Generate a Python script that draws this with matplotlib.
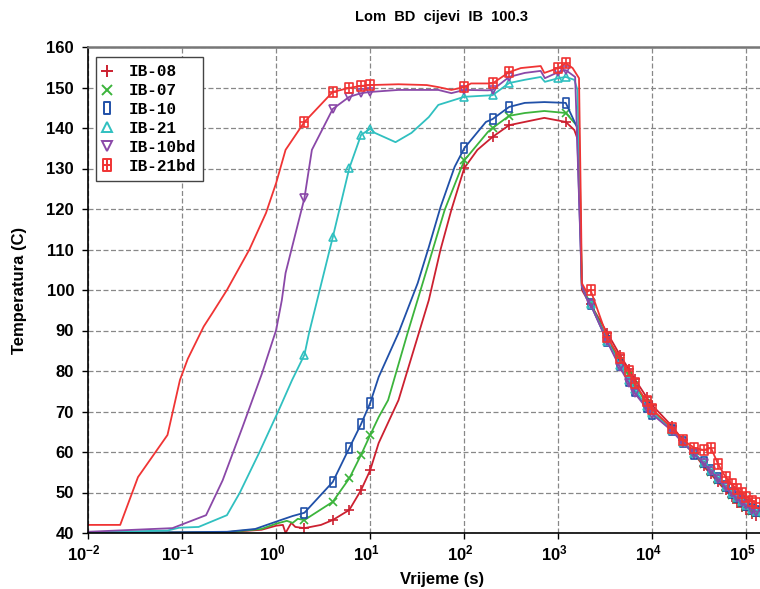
import numpy as np
import matplotlib
matplotlib.use('Agg')
import matplotlib.pyplot as plt
import matplotlib.transforms as mtransforms
from matplotlib.path import Path
from matplotlib.lines import Line2D

plt.rcParams['font.family'] = ['Liberation Sans', 'DejaVu Sans']
plt.rcParams['mathtext.fontset'] = 'custom'
plt.rcParams['mathtext.bf'] = 'Liberation Sans:bold'
plt.rcParams['mathtext.rm'] = 'Liberation Sans:bold'
plt.rcParams['mathtext.default'] = 'bf'

# cooling tail, shared sampling times (s)
tail_t = [2200, 3300, 4500, 5600, 6500, 8700, 10000, 16000, 21000, 28000, 35000,
          42000, 50000, 60000, 70000, 80000, 90000, 100000, 115000, 126000]

t08 = [0.01, 0.3, 0.7, 1.0, 1.18, 1.26, 1.45, 1.6, 2, 3, 4, 6, 8, 10, 12.3, 20, 42,
       56, 73, 100, 138, 178, 200, 300, 440, 710, 1200, 1480, 1660, 1780, 2000] + tail_t
y08 = [40, 40.2, 40.8, 41.8, 42, 40, 42.5, 41.5, 41.2, 42, 43.2, 45.7, 50.6, 55.5,
       62.2, 72.8, 97.5, 110, 119.8, 130.1, 134.6, 136.8, 137.8, 140.7, 141.5, 142.5,
       141.5, 139.5, 136.3, 100, 98,
       96.5, 89.5, 84, 80.5, 78, 73.5, 71.5, 66.5, 63, 59.5, 56.5, 54.5, 52.5, 50.5,
       48.8, 47.5, 46.5, 45.7, 44.8, 44.2]

t07 = [0.01, 0.3, 0.7, 1.0, 1.3, 1.5, 1.7, 2, 4, 6, 8, 10, 12.3, 15.5, 25, 42, 62, 100,
       178, 200, 300, 440, 710, 1200, 1660, 1780, 2000] + tail_t
y07 = [40, 40.2, 41, 42.3, 43, 42.5, 43.5, 43.2, 47.7, 53.5, 59.3, 64.2, 68.6, 72.8,
       89.4, 106.7, 119.8, 132, 139, 140, 143, 143.7, 144.2, 143.7, 140, 101, 98.5,
       96.8, 88, 82.5, 79, 76.5, 72, 70, 65.5, 62.5, 59.5, 57, 55, 53, 51, 49.5,
       48.3, 47.3, 46.5, 45.5, 45]

t10 = [0.01, 0.3, 0.6, 1.0, 1.5, 2, 4, 6, 8, 10, 12.3, 20, 32, 42, 56, 79, 100, 170,
       200, 300, 440, 710, 1200, 1580, 1780, 2000] + tail_t
y10 = [40, 40.3, 41, 42.8, 44.2, 45, 52.6, 61, 66.9, 72.1, 78.5, 89.4, 101.7, 110.6,
       120.5, 130.4, 135, 141.5, 142.2, 145.2, 146.2, 146.4, 146.2, 140.2, 101, 98,
       96.5, 87.5, 81.5, 77.5, 75, 71, 69.5, 65.5, 62.5, 59.5, 57.5, 55.5, 53.5, 51.5,
       50, 48.8, 47.8, 47, 46, 45.5]

t21 = [0.01, 0.07, 0.093, 0.15, 0.3, 0.41, 0.66, 1.07, 1.48, 2, 2.24, 4, 6, 8, 10,
       11.2, 18.6, 27.5, 42, 53, 100, 200, 300, 440, 650, 720, 1000, 1200, 1480, 1600,
       1780, 2000] + tail_t
y21 = [40.2, 40.6, 41.3, 41.5, 44.4, 49.9, 59.8, 70.4, 77.8, 84, 89.4, 113, 130.1,
       138.3, 139.8, 138.8, 136.5, 138.8, 142.7, 145.7, 147.7, 148.1, 151.1, 151.9,
       152.6, 151.4, 152.3, 152.6, 151.9, 149.4, 101, 98,
       96.5, 87.5, 81.5, 77.8, 75.5, 71.3, 69.7, 65.5, 62.5, 59.7, 57.5, 55.5, 53.5,
       51.5, 50, 48.8, 47.8, 47, 46, 45.5]

t10bd = [0.01, 0.079, 0.18, 0.27, 0.44, 0.71, 1.0, 1.15, 1.26, 2, 2.4, 4, 6, 8, 10, 20,
         42, 53, 73, 100, 178, 200, 300, 440, 650, 720, 1000, 1200, 1510, 1780,
         2000] + tail_t
y10bd = [40.3, 41.2, 44.4, 53, 66.2, 79.5, 90.1, 97.5, 104.2, 122.7, 134.6, 144.7,
         147.7, 148.6, 148.9, 149.4, 149.4, 149.4, 148.6, 149.4, 149.3, 149.4, 152.6,
         153.6, 154.1, 152.3, 153.8, 154.3, 152.6, 101, 98,
         96.5, 87.3, 81, 77, 74.5, 70.8, 69.3, 65.3, 62.3, 59.5, 57.3, 55.3, 53.3,
         51.3, 49.8, 48.6, 47.6, 46.8, 45.8, 45.3]

t21bd = [0.01, 0.022, 0.034, 0.07, 0.095, 0.115, 0.17, 0.21, 0.3, 0.52, 0.78, 1.0,
         1.26, 2, 4, 6, 8, 10, 20, 40, 53, 73, 100, 118, 200, 300, 400, 650, 710, 1000,
         1200, 1420, 1660, 1740, 1780, 2000] + tail_t
y21bd = [42, 42, 53.8, 64.2, 77.8, 83, 91, 94.3, 100, 110, 119, 126.4, 134.6, 141.5,
         148.9, 149.9, 150.4, 150.6, 150.8, 150.6, 150.1, 149.4, 150.1, 151, 151, 153.8,
         154.8, 155.3, 153.6, 154.8, 156, 154.8, 152.3, 120, 101.7, 99.5,
         100, 88.5, 83.2, 80, 77, 72.5, 70.5, 66, 63, 61, 60.5, 61, 57, 53.8, 52, 50.8,
         49.8, 49, 48, 47.5]

# times at which the logger marks were placed
mark_t = [2, 4, 6, 8, 10, 100, 200, 300, 1000, 1200] + tail_t

rect = Path([(-0.6, -1), (0.6, -1), (0.6, 1), (-0.6, 1), (-0.6, -1)],
            [Path.MOVETO, Path.LINETO, Path.LINETO, Path.LINETO, Path.CLOSEPOLY])
boxcross = Path([(-0.8, -1), (0.8, -1), (0.8, 1), (-0.8, 1), (-0.8, -1),
                 (0, -1), (0, 1), (-0.8, 0), (0.8, 0)],
                [Path.MOVETO, Path.LINETO, Path.LINETO, Path.LINETO, Path.CLOSEPOLY,
                 Path.MOVETO, Path.LINETO, Path.MOVETO, Path.LINETO])

series = [
    ('IB-08', t08, y08, '#cc2030', '+', 7),
    ('IB-07', t07, y07, '#3cb43c', 'x', 6),
    ('IB-10', t10, y10, '#2050a8', rect, 7),
    ('IB-21', t21, y21, '#30c0c0', '^', 6),
    ('IB-10bd', t10bd, y10bd, '#8a48a8', 'v', 6),
    ('IB-21bd', t21bd, y21bd, '#f03434', boxcross, 7),
]

fig = plt.figure(figsize=(7.6, 5.89), dpi=100)
ax = fig.add_axes([88 / 760, 56 / 589, 1.047 - 88 / 760, 486 / 589])

handles = []
for name, t, y, col, mk, ms in series:
    t = np.array(t)
    y = np.array(y)
    mask = np.isin(t, mark_t)
    ax.plot(t, y, color=col, lw=1.3, marker=mk, markevery=list(mask), ms=ms,
            mfc='none', mec=col, mew=1.2)
    handles.append(Line2D([], [], ls='none', marker=mk, ms=ms + 1, mfc='none',
                          mec=col, mew=1.4, label=name))

ax.set_xscale('log')
ax.set_xlim(1e-2, 10 ** 5.524)
ax.set_ylim(40, 160)
ax.set_yticks(np.arange(40, 161, 10))
ax.set_xticks([10.0 ** k for k in range(-2, 6)])
ax.set_xticklabels([r'$10^{%d}$' % k for k in range(-2, 6)])
ax.xaxis.set_minor_locator(matplotlib.ticker.NullLocator())
ax.grid(True, color='#888888', ls=(0, (4, 2)), lw=0.9)
ax.tick_params(direction='out', length=4, width=1, labelsize=12)
ax.tick_params(axis='y', pad=6)
shift = mtransforms.ScaledTranslation(-4 / 100, 0, fig.dpi_scale_trans)
for lab in ax.get_xticklabels():
    lab.set_transform(lab.get_transform() + shift)
for lab in ax.get_yticklabels():
    lab.set_fontweight('bold')
ax.spines['top'].set_color('#777777')
ax.spines['top'].set_linewidth(1.8)
ax.spines['right'].set_visible(False)
ax.spines['left'].set_linewidth(1.2)
ax.spines['bottom'].set_linewidth(1.2)

ax.set_xlabel('Vrijeme (s)', fontsize=12, fontweight='bold', labelpad=6)
ax.set_ylabel('Temperatura (C)', fontsize=12, fontweight='bold', labelpad=14)
ax.set_title('Lom  BD  cijevi  IB  100.3', fontsize=10.5, fontweight='bold', pad=19)

leg = ax.legend(handles=handles, loc='upper left', bbox_to_anchor=(0.011, 0.979),
                prop={'family': 'Liberation Mono', 'weight': 'bold', 'size': 11.5},
                fancybox=False, framealpha=1, edgecolor='#444444',
                handlelength=0.5, handletextpad=1.1, labelspacing=0.24,
                borderpad=0.45, borderaxespad=0)
leg.get_frame().set_linewidth(1.0)

fig.savefig('out.png', dpi=100)
